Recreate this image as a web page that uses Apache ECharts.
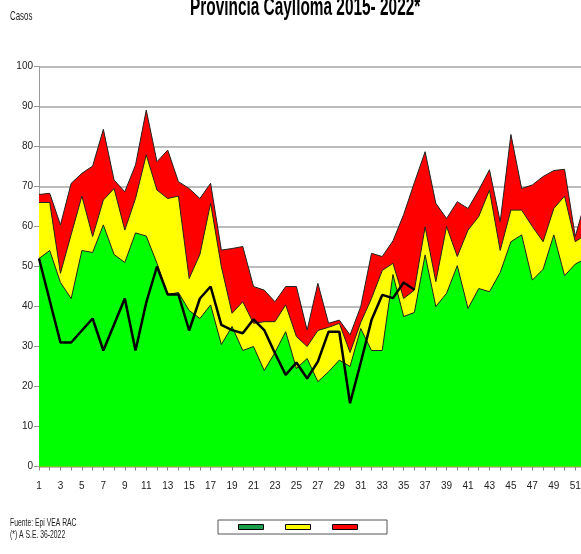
<!DOCTYPE html>
<html>
<head>
<meta charset="utf-8">
<script src="https://cdn.jsdelivr.net/npm/echarts@6/dist/echarts.min.js"></script>
<style>
  html, body { margin: 0; padding: 0; background: #fff; }
  #chart { width: 581px; height: 554px; }
</style>
</head>
<body>
<div id="chart"></div>
<script>
// Semanas epidemiológicas
const weeks = ['1','2','3','4','5','6','7','8','9','10','11','12','13','14','15','16','17','18','19','20',
  '21','22','23','24','25','26','27','28','29','30','31','32','33','34','35','36','37','38','39','40',
  '41','42','43','44','45','46','47','48','49','50','51','52'];

// Upper limit of each band (cases)
const redTop = [68,68.3,60.4,70.8,73.3,75.1,84.3,71.6,68.7,75.4,
  89.1,76.2,79.1,71.2,69.5,67,70.8,54.1,54.5,55,
  45,44.1,41.2,45,45,34.1,45.8,35.8,36.6,32.9,
  40,53.3,52.5,56.4,63,71,78.7,65.8,62,66.2,
  64.5,69.1,74.2,61.2,83,69.5,70.4,72.5,74,74.3,
  57.5,67];
const yellowTop = [66,66,48.3,58,67.6,57.5,66.6,69.5,59.1,67,
  77.9,69.1,67,67.6,47,53,65.8,50,38.3,41.2,
  35.8,36.2,36.2,40.4,32.5,30,34,34.8,35.8,28.5,
  36,42,49,50.8,42,44.1,59.9,46.2,60,52.5,
  59.1,62.5,69.1,54,64.1,64.1,60,56.2,64.5,67.6,
  56.2,58];
const greenTop = [52,54,46,42,54,53.5,60.4,53,51,58.4,
  57.6,50.8,43,43.5,39,37,40.4,30.5,35,29,
  30,24,28.5,33.7,24.5,27,21.2,23.7,26.6,25,
  34.5,29,29,48,37.5,38.5,52.9,40,43.3,50.2,
  39.5,44.5,43.7,48.5,56.2,57.9,46.6,49.3,57.9,47.7,
  50.6,52];
// Casos 2022 (hasta S.E. 36)
const cases2022 = [52,41.5,31,31,34,37,29,35.5,42,29,
  41,50,43,43,34,42,45,35.4,34.1,33.3,
  36.8,34.1,28.3,22.9,26,22,26.2,33.7,33.7,15.8,
  26,36.6,42.9,42.1,46,44.2];

const yTicks = { min: 0, max: 100, interval: 10 };

const FONT = "'Liberation Sans Narrow','Arial Narrow','Liberation Sans',sans-serif";

const chart = echarts.init(document.getElementById('chart'), null, { renderer: 'canvas' });

function band(name, data, color) {
  return {
    name: name,
    type: 'line',
    data: data,
    symbol: 'none',
    showSymbol: false,
    lineStyle: { color: '#222', width: 1 },
    itemStyle: { color: color },
    areaStyle: { color: color, opacity: 1 },
    emphasis: { disabled: true },
    silent: true,
    animation: false
  };
}

const option = {
  animation: false,
  backgroundColor: '#ffffff',
  graphic: [
    { type: 'text', x: 190, y: -5, scaleX: 0.7, scaleY: 1.15,
      style: { text: 'Provincia Caylloma 2015- 2022*', font: 'bold 22px ' + FONT, fill: '#000' } },
    { type: 'text', x: 10, y: 11, scaleX: 0.72, scaleY: 1.1,
      style: { text: 'Casos', font: '11px ' + FONT, fill: '#222' } },
    { type: 'text', x: 10, y: 517, scaleX: 0.68, scaleY: 1.1,
      style: { text: 'Fuente: Epi VEA RAC', font: '10px ' + FONT, fill: '#222' } },
    { type: 'text', x: 10, y: 529, scaleX: 0.68, scaleY: 1.1,
      style: { text: '(*) A S.E. 36-2022', font: '10px ' + FONT, fill: '#222' } }
  ],
  legend: {
    left: 218, top: 520,
    orient: 'horizontal',
    data: [
      { name: 'Éxito', itemStyle: { color: '#1a9e4a', borderColor: '#000', borderWidth: 1 } },
      { name: 'Seguridad', itemStyle: { color: '#ffff00', borderColor: '#000', borderWidth: 1 } },
      { name: 'Alarma', itemStyle: { color: '#ff0000', borderColor: '#000', borderWidth: 1 } }
    ],
    formatter: function () { return ''; },
    icon: 'rect',
    itemWidth: 25,
    itemHeight: 5,
    itemGap: 21,
    padding: [4, 29, 4, 20],
    borderColor: '#555',
    borderWidth: 1,
    backgroundColor: '#fff',
    selectedMode: false,
    textStyle: { fontSize: 1 }
  },
  grid: { left: 39, top: 66.5, width: 547, height: 400, containLabel: false, outerBoundsMode: 'none' },
  xAxis: {
    type: 'category',
    data: weeks,
    boundaryGap: false,
    axisLine: { show: true, lineStyle: { color: '#888', width: 1 } },
    axisTick: { show: true, interval: 0, length: 4, lineStyle: { color: '#888' } },
    axisLabel: { interval: 1, margin: 15, color: '#222', fontSize: 10, fontFamily: FONT },
    splitLine: { show: false }
  },
  yAxis: {
    type: 'value',
    min: yTicks.min, max: yTicks.max, interval: yTicks.interval,
    axisLine: { show: true, lineStyle: { color: '#999', width: 1 } },
    axisTick: { show: true, length: 5, lineStyle: { color: '#999' } },
    axisLabel: { margin: 6, color: '#222', fontSize: 10, fontFamily: FONT },
    splitLine: { show: true, lineStyle: { color: '#a6a6a6', width: 1.5 } }
  },
  series: [
    band('Alarma', redTop, '#ff0000'),
    band('Seguridad', yellowTop, '#ffff00'),
    band('Éxito', greenTop, '#00ff00'),
    {
      name: '2022',
      type: 'line',
      data: cases2022,
      symbol: 'none',
      showSymbol: false,
      lineStyle: { color: '#000', width: 2.5 },
      itemStyle: { color: '#000' },
      silent: true,
      animation: false
    }
  ]
};

chart.setOption(option);
</script>
</body>
</html>
